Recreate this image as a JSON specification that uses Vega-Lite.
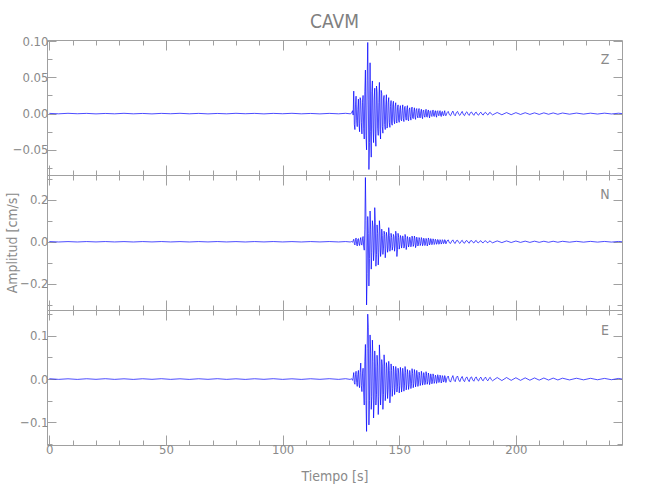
{
  "$schema": "https://vega.github.io/schema/vega-lite/v6.json",
  "padding": {"left": 4, "top": 12, "right": 5, "bottom": 5},
  "background": "white",
  "spacing": 0,
  "bounds": "flush",
  "config": {
    "view": {"stroke": "#a0a0a0", "strokeWidth": 1},
    "axis": {
      "domain": false, "grid": false, "tickColor": "#a0a0a0", "tickWidth": 1,
      "labelColor": "#8a8a8a", "labelFont": "Liberation Sans Narrow, DejaVu Sans Condensed, sans-serif", "labelFontSize": 13,
      "titleColor": "#8a8a8a", "titleFont": "Liberation Sans Narrow, DejaVu Sans Condensed, sans-serif", "titleFontSize": 14, "titleFontWeight": "normal"
    }
  },
  "datasets": {
    "Z": [
      {"t":0,"a":0.0003},{"t":4,"a":-0.0003},{"t":8,"a":0.0004},{"t":12,"a":-0.0002},{"t":16,"a":0.0003},{"t":20,"a":-0.0004},{"t":24,"a":0.0002},{"t":28,"a":-0.0003},{"t":32,"a":0.0004},{"t":36,"a":-0.0003},{"t":40,"a":0.0002},{"t":44,"a":-0.0004},{"t":48,"a":0.0003},{"t":52,"a":-0.0002},{"t":56,"a":0.0004},{"t":60,"a":-0.0003},{"t":64,"a":0.0003},{"t":68,"a":-0.0004},{"t":72,"a":0.0002},{"t":76,"a":-0.0003},{"t":80,"a":0.0004},{"t":84,"a":-0.0002},{"t":88,"a":0.0003},{"t":92,"a":-0.0004},{"t":96,"a":0.0003},{"t":100,"a":-0.0002},{"t":104,"a":0.0004},{"t":108,"a":-0.0003},{"t":112,"a":0.0002},{"t":116,"a":-0.0004},{"t":120,"a":0.0003},{"t":124,"a":-0.0003},{"t":127,"a":0.0004},{"t":129,"a":-0.0003},
      {"t":129.5,"a":0.0005},{"t":130,"a":0.004},{"t":130.5,"a":0.031},{"t":131,"a":-0.022},{"t":131.5,"a":0.024},{"t":132,"a":-0.018},{"t":132.5,"a":0.02},{"t":133,"a":-0.025},{"t":133.5,"a":0.018},{"t":134,"a":-0.028},{"t":134.5,"a":0.025},{"t":135,"a":-0.035},{"t":135.5,"a":0.06},{"t":136,"a":-0.05},{"t":136.5,"a":0.098},{"t":137,"a":-0.077},{"t":137.5,"a":0.07},{"t":138,"a":-0.06},{"t":138.5,"a":0.045},{"t":139,"a":-0.04},{"t":139.5,"a":0.035},{"t":140,"a":-0.045},{"t":140.5,"a":0.03},{"t":141,"a":-0.03},{"t":141.5,"a":0.043},{"t":142,"a":-0.035},{"t":142.5,"a":0.028},{"t":143,"a":-0.027},{"t":143.5,"a":0.025},{"t":144,"a":-0.022},{"t":144.5,"a":0.026},{"t":145,"a":-0.018},{"t":145.5,"a":0.022},{"t":146,"a":-0.019},{"t":146.5,"a":0.018},{"t":147,"a":-0.016},{"t":147.5,"a":0.017},{"t":148,"a":-0.014},{"t":148.5,"a":0.015},{"t":149,"a":-0.013},{"t":149.5,"a":0.012},{"t":150,"a":-0.012},{"t":150.5,"a":0.011},{"t":151,"a":-0.01},{"t":151.5,"a":0.012},{"t":152,"a":-0.011},{"t":152.5,"a":0.01},{"t":153,"a":-0.009},{"t":153.5,"a":0.011},{"t":154,"a":-0.01},{"t":154.5,"a":0.008},{"t":155,"a":-0.009},{"t":155.5,"a":0.009},{"t":156,"a":-0.007},{"t":156.5,"a":0.008},{"t":157,"a":-0.008},{"t":157.5,"a":0.007},{"t":158,"a":-0.006},{"t":158.5,"a":0.007},{"t":159,"a":-0.006},{"t":159.5,"a":0.006},{"t":160,"a":-0.007},{"t":160.5,"a":0.005},{"t":161,"a":-0.005},{"t":161.5,"a":0.006},{"t":162,"a":-0.005},{"t":162.5,"a":0.005},{"t":163,"a":-0.006},{"t":163.5,"a":0.004},{"t":164,"a":-0.004},{"t":164.5,"a":0.005},{"t":165,"a":-0.004},{"t":165.5,"a":0.004},{"t":166,"a":-0.005},{"t":166.5,"a":0.004},{"t":167,"a":-0.003},{"t":167.5,"a":0.004},{"t":168,"a":-0.004},{"t":168.5,"a":0.003},{"t":169,"a":-0.003},{"t":169.5,"a":0.004},{"t":170,"a":-0.003},
      {"t":171,"a":0.003},{"t":172,"a":-0.003},{"t":173,"a":0.0035},{"t":174,"a":-0.003},{"t":175,"a":0.003},{"t":176,"a":-0.0025},{"t":177,"a":0.003},{"t":178,"a":-0.0028},{"t":179,"a":0.0025},{"t":180,"a":-0.0025},{"t":181,"a":0.0022},{"t":182,"a":-0.0024},{"t":183,"a":0.002},{"t":184,"a":-0.0022},{"t":185,"a":0.002},{"t":186,"a":-0.002},{"t":187,"a":0.0018},{"t":188,"a":-0.002},{"t":189,"a":0.0017},{"t":190,"a":-0.0018},{"t":192,"a":0.0015},{"t":194,"a":-0.0016},{"t":196,"a":0.0014},{"t":198,"a":-0.0015},{"t":200,"a":0.0013},{"t":202,"a":-0.0012},{"t":204,"a":0.0012},{"t":206,"a":-0.0011},{"t":208,"a":0.001},{"t":210,"a":-0.0011},{"t":212,"a":0.001},{"t":214,"a":-0.0009},{"t":216,"a":0.0009},{"t":218,"a":-0.0009},{"t":220,"a":0.0008},{"t":223,"a":-0.0008},{"t":226,"a":0.0007},{"t":229,"a":-0.0007},{"t":232,"a":0.0006},{"t":235,"a":-0.0006},{"t":238,"a":0.0006},{"t":241,"a":-0.0005},{"t":244,"a":0.0005},{"t":245.5,"a":0},
      {"t":130.25,"a":-0.002},{"t":130.75,"a":-0.015},{"t":131.25,"a":0.012},{"t":131.75,"a":-0.01},{"t":132.25,"a":0.006},{"t":132.75,"a":-0.014},{"t":133.25,"a":0.022},{"t":133.75,"a":-0.012},{"t":134.25,"a":0.015},{"t":134.75,"a":-0.02},{"t":135.25,"a":0.03},{"t":135.75,"a":-0.03},{"t":136.25,"a":0.045},{"t":136.75,"a":0.02},{"t":137.25,"a":-0.04},{"t":137.75,"a":-0.025},{"t":138.25,"a":0.03},{"t":138.75,"a":-0.02},{"t":139.25,"a":0.02},{"t":139.75,"a":-0.028},{"t":140.25,"a":0.038},{"t":140.75,"a":-0.02},{"t":141.25,"a":0.015},{"t":141.75,"a":-0.022},{"t":142.25,"a":0.032},{"t":142.75,"a":-0.018},{"t":143.25,"a":0.02},{"t":143.75,"a":-0.015},{"t":144.25,"a":0.012},{"t":144.75,"a":-0.02},{"t":145.25,"a":0.015},{"t":145.75,"a":-0.012},{"t":146.25,"a":0.01},{"t":146.75,"a":-0.014},{"t":147.25,"a":0.012},{"t":147.75,"a":-0.009},{"t":148.25,"a":0.01},{"t":148.75,"a":-0.011},{"t":149.25,"a":0.008},{"t":149.75,"a":-0.009},
      {"t":150.25,"a":0.006},{"t":150.75,"a":-0.008},{"t":151.25,"a":0.004},{"t":151.75,"a":-0.007},{"t":152.25,"a":0.008},{"t":152.75,"a":-0.005},{"t":153.25,"a":0.006},{"t":153.75,"a":-0.008},{"t":154.25,"a":0.005},{"t":154.75,"a":-0.004},{"t":155.25,"a":0.006},{"t":155.75,"a":-0.006},{"t":156.25,"a":0.003},{"t":156.75,"a":-0.005},{"t":157.25,"a":0.005},{"t":157.75,"a":-0.003},{"t":158.25,"a":0.004},{"t":158.75,"a":-0.005},{"t":159.25,"a":0.003},{"t":159.75,"a":-0.004},{"t":160.25,"a":0.004},{"t":160.75,"a":-0.003},{"t":161.25,"a":0.002},{"t":161.75,"a":-0.004},{"t":162.25,"a":0.003},{"t":162.75,"a":-0.002},{"t":163.25,"a":0.003},{"t":163.75,"a":-0.003},{"t":164.25,"a":0.002},{"t":164.75,"a":-0.003},{"t":165.25,"a":0.002},{"t":165.75,"a":-0.002},{"t":166.25,"a":0.003},{"t":166.75,"a":-0.002},{"t":167.25,"a":0.002},{"t":167.75,"a":-0.002},{"t":168.25,"a":0.002},{"t":168.75,"a":-0.002},{"t":169.25,"a":0.001},{"t":169.75,"a":-0.002},
      {"t":170.5,"a":0.0012},{"t":171.5,"a":-0.0015},{"t":172.5,"a":0.0008},{"t":173.5,"a":-0.0012},{"t":174.5,"a":0.0015},{"t":175.5,"a":-0.001},{"t":176.5,"a":0.0006},{"t":177.5,"a":-0.0014},{"t":178.5,"a":0.001},{"t":179.5,"a":-0.0008},{"t":180.5,"a":0.0012},{"t":181.5,"a":-0.0006},{"t":182.5,"a":0.0009},{"t":183.5,"a":-0.001},{"t":184.5,"a":0.0005},{"t":185.5,"a":-0.0009},{"t":186.5,"a":0.0008},{"t":187.5,"a":-0.0005},{"t":188.5,"a":0.0007},{"t":189.5,"a":-0.0006}
    ],
    "N": [
      {"t":0,"a":0.001},{"t":4,"a":-0.001},{"t":8,"a":0.0008},{"t":12,"a":-0.001},{"t":16,"a":0.0009},{"t":20,"a":-0.0008},{"t":24,"a":0.001},{"t":28,"a":-0.0009},{"t":32,"a":0.0008},{"t":36,"a":-0.001},{"t":40,"a":0.0009},{"t":44,"a":-0.0008},{"t":48,"a":0.001},{"t":52,"a":-0.0009},{"t":56,"a":0.0008},{"t":60,"a":-0.001},{"t":64,"a":0.0009},{"t":68,"a":-0.0008},{"t":72,"a":0.001},{"t":76,"a":-0.0009},{"t":80,"a":0.0008},{"t":84,"a":-0.001},{"t":88,"a":0.0009},{"t":92,"a":-0.0008},{"t":96,"a":0.001},{"t":100,"a":-0.0009},{"t":104,"a":0.0008},{"t":108,"a":-0.001},{"t":112,"a":0.0009},{"t":116,"a":-0.0008},{"t":120,"a":0.001},{"t":124,"a":-0.0009},{"t":127,"a":0.001},{"t":129,"a":-0.001},
      {"t":129.5,"a":0.001},{"t":130,"a":-0.002},{"t":130.5,"a":0.012},{"t":131,"a":-0.015},{"t":131.5,"a":0.018},{"t":132,"a":-0.02},{"t":132.5,"a":0.015},{"t":133,"a":-0.018},{"t":133.5,"a":0.02},{"t":134,"a":-0.016},{"t":134.5,"a":0.025},{"t":135,"a":-0.04},{"t":135.5,"a":0.305},{"t":136,"a":-0.3},{"t":136.5,"a":0.12},{"t":137,"a":-0.21},{"t":137.5,"a":0.146},{"t":138,"a":-0.13},{"t":138.5,"a":0.1},{"t":139,"a":-0.09},{"t":139.5,"a":0.162},{"t":140,"a":-0.116},{"t":140.5,"a":0.08},{"t":141,"a":-0.11},{"t":141.5,"a":0.1},{"t":142,"a":-0.07},{"t":142.5,"a":0.06},{"t":143,"a":-0.06},{"t":143.5,"a":0.05},{"t":144,"a":-0.076},{"t":144.5,"a":0.045},{"t":145,"a":-0.05},{"t":145.5,"a":0.067},{"t":146,"a":-0.045},{"t":146.5,"a":0.04},{"t":147,"a":-0.04},{"t":147.5,"a":0.035},{"t":148,"a":-0.045},{"t":148.5,"a":0.05},{"t":149,"a":-0.07},{"t":149.5,"a":0.04},{"t":150,"a":-0.035},{"t":150.5,"a":0.03},{"t":151,"a":-0.03},{"t":151.5,"a":0.028},{"t":152,"a":-0.03},{"t":152.5,"a":0.035},{"t":153,"a":-0.037},{"t":153.5,"a":0.025},{"t":154,"a":-0.025},{"t":154.5,"a":0.022},{"t":155,"a":-0.024},{"t":155.5,"a":0.027},{"t":156,"a":-0.022},{"t":156.5,"a":0.027},{"t":157,"a":-0.028},{"t":157.5,"a":0.022},{"t":158,"a":-0.02},{"t":158.5,"a":0.02},{"t":159,"a":-0.018},{"t":159.5,"a":0.02},{"t":160,"a":-0.019},{"t":160.5,"a":0.017},{"t":161,"a":-0.018},{"t":161.5,"a":0.016},{"t":162,"a":-0.02},{"t":162.5,"a":0.018},{"t":163,"a":-0.015},{"t":163.5,"a":0.015},{"t":164,"a":-0.014},{"t":164.5,"a":0.014},{"t":165,"a":-0.013},{"t":165.5,"a":0.012},{"t":166,"a":-0.012},{"t":166.5,"a":0.011},{"t":167,"a":-0.012},{"t":167.5,"a":0.01},{"t":168,"a":-0.011},{"t":168.5,"a":0.01},{"t":169,"a":-0.009},{"t":169.5,"a":0.01},{"t":170,"a":-0.01},
      {"t":171,"a":0.009},{"t":172,"a":-0.008},{"t":173,"a":0.009},{"t":174,"a":-0.008},{"t":175,"a":0.007},{"t":176,"a":-0.008},{"t":177,"a":0.007},{"t":178,"a":-0.007},{"t":179,"a":0.006},{"t":180,"a":-0.007},{"t":181,"a":0.006},{"t":182,"a":-0.006},{"t":183,"a":0.006},{"t":184,"a":-0.005},{"t":185,"a":0.005},{"t":186,"a":-0.005},{"t":187,"a":0.005},{"t":188,"a":-0.005},{"t":189,"a":0.004},{"t":190,"a":-0.005},{"t":192,"a":0.004},{"t":194,"a":-0.004},{"t":196,"a":0.004},{"t":198,"a":-0.0035},{"t":200,"a":0.0035},{"t":202,"a":-0.003},{"t":204,"a":0.003},{"t":206,"a":-0.003},{"t":208,"a":0.0028},{"t":210,"a":-0.0027},{"t":212,"a":0.0025},{"t":214,"a":-0.0025},{"t":216,"a":0.0024},{"t":218,"a":-0.0023},{"t":220,"a":0.0022},{"t":223,"a":-0.002},{"t":226,"a":0.002},{"t":229,"a":-0.0018},{"t":232,"a":0.0018},{"t":235,"a":-0.0016},{"t":238,"a":0.0015},{"t":241,"a":-0.0015},{"t":244,"a":0.0014},{"t":245.5,"a":0},
      {"t":130.25,"a":0.005},{"t":130.75,"a":-0.008},{"t":131.25,"a":0.01},{"t":131.75,"a":-0.012},{"t":132.25,"a":0.012},{"t":132.75,"a":-0.01},{"t":133.25,"a":0.008},{"t":133.75,"a":-0.012},{"t":134.25,"a":0.014},{"t":134.75,"a":-0.02},{"t":135.25,"a":0.06},{"t":135.75,"a":0.1},{"t":136.25,"a":-0.15},{"t":136.75,"a":0.04},{"t":137.25,"a":-0.08},{"t":137.75,"a":0.06},{"t":138.25,"a":-0.05},{"t":138.75,"a":0.07},{"t":139.25,"a":-0.04},{"t":139.75,"a":0.09},{"t":140.25,"a":-0.06},{"t":140.75,"a":0.04},{"t":141.25,"a":-0.05},{"t":141.75,"a":0.05},{"t":142.25,"a":-0.04},{"t":142.75,"a":0.03},{"t":143.25,"a":-0.03},{"t":143.75,"a":0.035},{"t":144.25,"a":-0.03},{"t":144.75,"a":0.025},{"t":145.25,"a":-0.03},{"t":145.75,"a":0.03},{"t":146.25,"a":-0.025},{"t":146.75,"a":0.02},{"t":147.25,"a":-0.022},{"t":147.75,"a":0.025},{"t":148.25,"a":-0.02},{"t":148.75,"a":0.03},{"t":149.25,"a":-0.035},{"t":149.75,"a":0.02},
      {"t":150.25,"a":-0.015},{"t":150.75,"a":0.018},{"t":151.25,"a":-0.012},{"t":151.75,"a":0.015},{"t":152.25,"a":-0.02},{"t":152.75,"a":0.02},{"t":153.25,"a":-0.015},{"t":153.75,"a":0.012},{"t":154.25,"a":-0.014},{"t":154.75,"a":0.012},{"t":155.25,"a":-0.01},{"t":155.75,"a":0.015},{"t":156.25,"a":-0.012},{"t":156.75,"a":0.014},{"t":157.25,"a":-0.015},{"t":157.75,"a":0.01},{"t":158.25,"a":-0.011},{"t":158.75,"a":0.012},{"t":159.25,"a":-0.009},{"t":159.75,"a":0.01},{"t":160.25,"a":-0.01},{"t":160.75,"a":0.009},{"t":161.25,"a":-0.01},{"t":161.75,"a":0.008},{"t":162.25,"a":-0.011},{"t":162.75,"a":0.009},{"t":163.25,"a":-0.008},{"t":163.75,"a":0.008},{"t":164.25,"a":-0.007},{"t":164.75,"a":0.008},{"t":165.25,"a":-0.007},{"t":165.75,"a":0.006},{"t":166.25,"a":-0.006},{"t":166.75,"a":0.007},{"t":167.25,"a":-0.006},{"t":167.75,"a":0.005},{"t":168.25,"a":-0.006},{"t":168.75,"a":0.005},{"t":169.25,"a":-0.005},{"t":169.75,"a":0.006},
      {"t":170.5,"a":0.004},{"t":171.5,"a":-0.005},{"t":172.5,"a":0.003},{"t":173.5,"a":-0.004},{"t":174.5,"a":0.005},{"t":175.5,"a":-0.003},{"t":176.5,"a":0.002},{"t":177.5,"a":-0.004},{"t":178.5,"a":0.003},{"t":179.5,"a":-0.002},{"t":180.5,"a":0.004},{"t":181.5,"a":-0.002},{"t":182.5,"a":0.003},{"t":183.5,"a":-0.003},{"t":184.5,"a":0.002},{"t":185.5,"a":-0.003},{"t":186.5,"a":0.002},{"t":187.5,"a":-0.002},{"t":188.5,"a":0.002},{"t":189.5,"a":-0.002}
    ],
    "E": [
      {"t":0,"a":0.0008},{"t":4,"a":-0.0007},{"t":8,"a":0.0006},{"t":12,"a":-0.0008},{"t":16,"a":0.0007},{"t":20,"a":-0.0006},{"t":24,"a":0.0008},{"t":28,"a":-0.0007},{"t":32,"a":0.0006},{"t":36,"a":-0.0008},{"t":40,"a":0.0007},{"t":44,"a":-0.0006},{"t":48,"a":0.0008},{"t":52,"a":-0.0007},{"t":56,"a":0.0006},{"t":60,"a":-0.0008},{"t":64,"a":0.0007},{"t":68,"a":-0.0006},{"t":72,"a":0.0008},{"t":76,"a":-0.0007},{"t":80,"a":0.0006},{"t":84,"a":-0.0008},{"t":88,"a":0.0007},{"t":92,"a":-0.0006},{"t":96,"a":0.0008},{"t":100,"a":-0.0007},{"t":104,"a":0.0006},{"t":108,"a":-0.0008},{"t":112,"a":0.0007},{"t":116,"a":-0.0006},{"t":120,"a":0.0008},{"t":124,"a":-0.0007},{"t":127,"a":0.0008},{"t":129,"a":-0.0008},
      {"t":129.5,"a":0.001},{"t":130,"a":-0.003},{"t":130.5,"a":0.015},{"t":131,"a":-0.012},{"t":131.5,"a":0.018},{"t":132,"a":-0.017},{"t":132.5,"a":0.02},{"t":133,"a":-0.02},{"t":133.5,"a":0.037},{"t":134,"a":-0.029},{"t":134.5,"a":0.025},{"t":135,"a":-0.06},{"t":135.5,"a":0.08},{"t":136,"a":-0.121},{"t":136.5,"a":0.15},{"t":137,"a":-0.106},{"t":137.5,"a":0.102},{"t":138,"a":-0.07},{"t":138.5,"a":0.09},{"t":139,"a":-0.09},{"t":139.5,"a":0.065},{"t":140,"a":-0.06},{"t":140.5,"a":0.055},{"t":141,"a":-0.082},{"t":141.5,"a":0.079},{"t":142,"a":-0.06},{"t":142.5,"a":0.045},{"t":143,"a":-0.07},{"t":143.5,"a":0.056},{"t":144,"a":-0.05},{"t":144.5,"a":0.038},{"t":145,"a":-0.045},{"t":145.5,"a":0.041},{"t":146,"a":-0.055},{"t":146.5,"a":0.035},{"t":147,"a":-0.04},{"t":147.5,"a":0.03},{"t":148,"a":-0.036},{"t":148.5,"a":0.029},{"t":149,"a":-0.03},{"t":149.5,"a":0.025},{"t":150,"a":-0.032},{"t":150.5,"a":0.027},{"t":151,"a":-0.03},{"t":151.5,"a":0.025},{"t":152,"a":-0.028},{"t":152.5,"a":0.029},{"t":153,"a":-0.025},{"t":153.5,"a":0.022},{"t":154,"a":-0.024},{"t":154.5,"a":0.02},{"t":155,"a":-0.022},{"t":155.5,"a":0.024},{"t":156,"a":-0.02},{"t":156.5,"a":0.022},{"t":157,"a":-0.018},{"t":157.5,"a":0.02},{"t":158,"a":-0.017},{"t":158.5,"a":0.016},{"t":159,"a":-0.015},{"t":159.5,"a":0.018},{"t":160,"a":-0.014},{"t":160.5,"a":0.015},{"t":161,"a":-0.013},{"t":161.5,"a":0.017},{"t":162,"a":-0.012},{"t":162.5,"a":0.014},{"t":163,"a":-0.013},{"t":163.5,"a":0.012},{"t":164,"a":-0.011},{"t":164.5,"a":0.012},{"t":165,"a":-0.01},{"t":165.5,"a":0.009},{"t":166,"a":-0.01},{"t":166.5,"a":0.01},{"t":167,"a":-0.008},{"t":167.5,"a":0.009},{"t":168,"a":-0.009},{"t":168.5,"a":0.008},{"t":169,"a":-0.007},{"t":169.5,"a":0.008},{"t":170,"a":-0.008},
      {"t":171,"a":0.007},{"t":172,"a":-0.007},{"t":173,"a":0.008},{"t":174,"a":-0.006},{"t":175,"a":0.007},{"t":176,"a":-0.006},{"t":177,"a":0.006},{"t":178,"a":-0.006},{"t":179,"a":0.005},{"t":180,"a":-0.006},{"t":181,"a":0.005},{"t":182,"a":-0.005},{"t":183,"a":0.005},{"t":184,"a":-0.0045},{"t":185,"a":0.0045},{"t":186,"a":-0.004},{"t":187,"a":0.0045},{"t":188,"a":-0.004},{"t":189,"a":0.004},{"t":190,"a":-0.004},{"t":192,"a":0.0035},{"t":194,"a":-0.0035},{"t":196,"a":0.0035},{"t":198,"a":-0.003},{"t":200,"a":0.003},{"t":202,"a":-0.003},{"t":204,"a":0.0028},{"t":206,"a":-0.0027},{"t":208,"a":0.0026},{"t":210,"a":-0.0025},{"t":212,"a":0.0024},{"t":214,"a":-0.0023},{"t":216,"a":0.0022},{"t":218,"a":-0.0021},{"t":220,"a":0.002},{"t":223,"a":-0.002},{"t":226,"a":0.0019},{"t":229,"a":-0.0018},{"t":232,"a":0.0017},{"t":235,"a":-0.0016},{"t":238,"a":0.0015},{"t":241,"a":-0.0015},{"t":244,"a":0.0014},{"t":245.5,"a":0},
      {"t":130.25,"a":0.004},{"t":130.75,"a":-0.008},{"t":131.25,"a":0.01},{"t":131.75,"a":-0.008},{"t":132.25,"a":0.01},{"t":132.75,"a":-0.012},{"t":133.25,"a":0.015},{"t":133.75,"a":-0.015},{"t":134.25,"a":0.012},{"t":134.75,"a":-0.03},{"t":135.25,"a":0.04},{"t":135.75,"a":-0.05},{"t":136.25,"a":0.07},{"t":136.75,"a":0.12},{"t":137.25,"a":-0.05},{"t":137.75,"a":0.06},{"t":138.25,"a":-0.04},{"t":138.75,"a":0.04},{"t":139.25,"a":-0.05},{"t":139.75,"a":0.03},{"t":140.25,"a":-0.035},{"t":140.75,"a":0.03},{"t":141.25,"a":-0.04},{"t":141.75,"a":0.04},{"t":142.25,"a":-0.03},{"t":142.75,"a":0.03},{"t":143.25,"a":-0.035},{"t":143.75,"a":0.03},{"t":144.25,"a":-0.03},{"t":144.75,"a":0.025},{"t":145.25,"a":-0.025},{"t":145.75,"a":0.02},{"t":146.25,"a":-0.03},{"t":146.75,"a":0.02},{"t":147.25,"a":-0.022},{"t":147.75,"a":0.018},{"t":148.25,"a":-0.02},{"t":148.75,"a":0.016},{"t":149.25,"a":-0.018},{"t":149.75,"a":0.014},
      {"t":150.25,"a":-0.015},{"t":150.75,"a":0.014},{"t":151.25,"a":-0.016},{"t":151.75,"a":0.012},{"t":152.25,"a":-0.014},{"t":152.75,"a":0.015},{"t":153.25,"a":-0.012},{"t":153.75,"a":0.011},{"t":154.25,"a":-0.013},{"t":154.75,"a":0.01},{"t":155.25,"a":-0.011},{"t":155.75,"a":0.013},{"t":156.25,"a":-0.01},{"t":156.75,"a":0.012},{"t":157.25,"a":-0.009},{"t":157.75,"a":0.01},{"t":158.25,"a":-0.009},{"t":158.75,"a":0.008},{"t":159.25,"a":-0.008},{"t":159.75,"a":0.009},{"t":160.25,"a":-0.007},{"t":160.75,"a":0.008},{"t":161.25,"a":-0.007},{"t":161.75,"a":0.009},{"t":162.25,"a":-0.006},{"t":162.75,"a":0.007},{"t":163.25,"a":-0.007},{"t":163.75,"a":0.006},{"t":164.25,"a":-0.006},{"t":164.75,"a":0.006},{"t":165.25,"a":-0.005},{"t":165.75,"a":0.005},{"t":166.25,"a":-0.005},{"t":166.75,"a":0.005},{"t":167.25,"a":-0.004},{"t":167.75,"a":0.005},{"t":168.25,"a":-0.005},{"t":168.75,"a":0.004},{"t":169.25,"a":-0.004},{"t":169.75,"a":0.004},
      {"t":170.5,"a":0.003},{"t":171.5,"a":-0.004},{"t":172.5,"a":0.002},{"t":173.5,"a":-0.003},{"t":174.5,"a":0.004},{"t":175.5,"a":-0.002},{"t":176.5,"a":0.002},{"t":177.5,"a":-0.003},{"t":178.5,"a":0.002},{"t":179.5,"a":-0.002},{"t":180.5,"a":0.003},{"t":181.5,"a":-0.002},{"t":182.5,"a":0.002},{"t":183.5,"a":-0.002},{"t":184.5,"a":0.0015},{"t":185.5,"a":-0.002},{"t":186.5,"a":0.0015},{"t":187.5,"a":-0.0015},{"t":188.5,"a":0.0015},{"t":189.5,"a":-0.0015}
    ]
  },
  "vconcat": [
    {
      "width": 575, "height": 135,
      "title": {"text": "CAVM", "frame": "group", "anchor": "middle", "offset": 3, "fontSize": 19, "font": "Liberation Sans Narrow, DejaVu Sans Condensed, sans-serif", "fontWeight": "normal", "color": "#808080"},
      "layer": [
        {
          "data": {"name": "Z"},
          "mark": {"type": "line", "color": "#0000ff", "strokeWidth": 0.7, "clip": true},
          "encoding": {
            "x": {"field": "t", "type": "quantitative", "scale": {"domain": [-1, 245.5], "nice": false, "zero": false},
                  "axis": {"orient": "bottom", "values": [0,10,20,30,40,50,60,70,80,90,100,110,120,130,140,150,160,170,180,190,200,210,220,230,240], "labels": false, "title": null, "tickSize": {"condition": {"test": "datum.value % 50 === 0", "value": -10}, "value": -5}}},
            "y": {"field": "a", "type": "quantitative", "scale": {"domain": [-0.0846, 0.1014], "nice": false, "zero": false},
                  "axis": {"orient": "left", "values": [-0.075,-0.05,-0.025,0,0.025,0.05,0.075,0.1], "title": null, "labelPadding": 8, "labelExpr": "abs(datum.value*20 - round(datum.value*20)) < 1e-6 ? format(datum.value, '.2f') : ''", "tickSize": {"condition": {"test": "abs(datum.value*20 - round(datum.value*20)) < 1e-6", "value": -9}, "value": -5}}}
          }
        },
        {
          "data": {"values": [{}]},
          "mark": {"type": "text", "font": "Liberation Sans Narrow, DejaVu Sans Condensed, sans-serif", "fontSize": 14, "color": "#8a8a8a", "align": "center", "baseline": "middle"},
          "encoding": {
            "x": {"datum": 238.2, "type": "quantitative", "axis": {"orient": "top", "values": [0,10,20,30,40,50,60,70,80,90,100,110,120,130,140,150,160,170,180,190,200,210,220,230,240], "labels": false, "title": null, "tickSize": {"condition": {"test": "datum.value % 50 === 0", "value": -10}, "value": -5}}},
            "y": {"datum": 0.0738, "type": "quantitative", "axis": {"orient": "right", "values": [-0.075,-0.05,-0.025,0,0.025,0.05,0.075,0.1], "labels": false, "title": null, "tickSize": {"condition": {"test": "abs(datum.value*20 - round(datum.value*20)) < 1e-6", "value": -9}, "value": -5}}},
            "text": {"value": "Z"}
          }
        }
      ],
      "resolve": {"axis": {"x": "independent", "y": "independent"}}
    },
    {
      "width": 575, "height": 135,
      "layer": [
        {
          "data": {"name": "N"},
          "mark": {"type": "line", "color": "#0000ff", "strokeWidth": 0.7, "clip": true},
          "encoding": {
            "x": {"field": "t", "type": "quantitative", "scale": {"domain": [-1, 245.5], "nice": false, "zero": false},
                  "axis": {"orient": "bottom", "values": [0,10,20,30,40,50,60,70,80,90,100,110,120,130,140,150,160,170,180,190,200,210,220,230,240], "labels": false, "title": null, "tickSize": {"condition": {"test": "datum.value % 50 === 0", "value": -10}, "value": -5}}},
            "y": {"field": "a", "type": "quantitative", "scale": {"domain": [-0.324, 0.317], "nice": false, "zero": false},
                  "axis": {"orient": "left", "values": [-0.3,-0.2,-0.1,0,0.1,0.2,0.3], "title": "Amplitud [cm/s]", "titlePadding": 0.5, "labelPadding": 8, "labelExpr": "abs(datum.value*5 - round(datum.value*5)) < 1e-6 ? format(datum.value, '.1f') : ''", "tickSize": {"condition": {"test": "abs(datum.value*5 - round(datum.value*5)) < 1e-6", "value": -9}, "value": -5}}}
          }
        },
        {
          "data": {"values": [{}]},
          "mark": {"type": "text", "font": "Liberation Sans Narrow, DejaVu Sans Condensed, sans-serif", "fontSize": 14, "color": "#8a8a8a", "align": "center", "baseline": "middle"},
          "encoding": {
            "x": {"datum": 238.2, "type": "quantitative", "axis": {"orient": "top", "values": [0,10,20,30,40,50,60,70,80,90,100,110,120,130,140,150,160,170,180,190,200,210,220,230,240], "labels": false, "title": null, "tickSize": {"condition": {"test": "datum.value % 50 === 0", "value": -10}, "value": -5}}},
            "y": {"datum": 0.22, "type": "quantitative", "axis": {"orient": "right", "values": [-0.3,-0.2,-0.1,0,0.1,0.2,0.3], "labels": false, "title": null, "tickSize": {"condition": {"test": "abs(datum.value*5 - round(datum.value*5)) < 1e-6", "value": -9}, "value": -5}}},
            "text": {"value": "N"}
          }
        }
      ],
      "resolve": {"axis": {"x": "independent", "y": "independent"}}
    },
    {
      "width": 575, "height": 135,
      "layer": [
        {
          "data": {"name": "E"},
          "mark": {"type": "line", "color": "#0000ff", "strokeWidth": 0.7, "clip": true},
          "encoding": {
            "x": {"field": "t", "type": "quantitative", "scale": {"domain": [-1, 245.5], "nice": false, "zero": false},
                  "axis": {"orient": "bottom", "values": [0,10,20,30,40,50,60,70,80,90,100,110,120,130,140,150,160,170,180,190,200,210,220,230,240], "title": "Tiempo [s]", "titlePadding": 13, "labelPadding": 8, "labelExpr": "datum.value % 50 === 0 ? datum.label : ''", "tickSize": {"condition": {"test": "datum.value % 50 === 0", "value": -10}, "value": -5}}},
            "y": {"field": "a", "type": "quantitative", "scale": {"domain": [-0.1524, 0.1596], "nice": false, "zero": false},
                  "axis": {"orient": "left", "values": [-0.15,-0.1,-0.05,0,0.05,0.1,0.15], "title": null, "labelPadding": 8, "labelExpr": "abs(datum.value*10 - round(datum.value*10)) < 1e-6 ? format(datum.value, '.1f') : ''", "tickSize": {"condition": {"test": "abs(datum.value*10 - round(datum.value*10)) < 1e-6", "value": -9}, "value": -5}}}
          }
        },
        {
          "data": {"values": [{}]},
          "mark": {"type": "text", "font": "Liberation Sans Narrow, DejaVu Sans Condensed, sans-serif", "fontSize": 14, "color": "#8a8a8a", "align": "center", "baseline": "middle"},
          "encoding": {
            "x": {"datum": 238.2, "type": "quantitative", "axis": {"orient": "top", "values": [0,10,20,30,40,50,60,70,80,90,100,110,120,130,140,150,160,170,180,190,200,210,220,230,240], "labels": false, "title": null, "tickSize": {"condition": {"test": "datum.value % 50 === 0", "value": -10}, "value": -5}}},
            "y": {"datum": 0.11, "type": "quantitative", "axis": {"orient": "right", "values": [-0.15,-0.1,-0.05,0,0.05,0.1,0.15], "labels": false, "title": null, "tickSize": {"condition": {"test": "abs(datum.value*10 - round(datum.value*10)) < 1e-6", "value": -9}, "value": -5}}},
            "text": {"value": "E"}
          }
        }
      ],
      "resolve": {"axis": {"x": "independent", "y": "independent"}}
    }
  ]
}
